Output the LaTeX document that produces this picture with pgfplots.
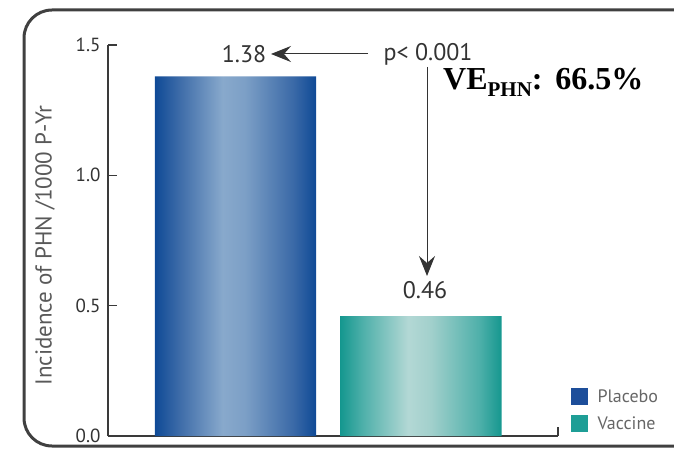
\documentclass[border=0pt]{standalone}
\usepackage{pgfplots}
\pgfplotsset{compat=1.18}
\usetikzlibrary{arrows.meta}
\usepackage{fontspec}
\setmainfont{PT Sans}
\newfontfamily\timesfont{Liberation Serif}
\definecolor{pA}{HTML}{0F4A96}
\definecolor{pB}{HTML}{3A69A7}
\definecolor{pC}{HTML}{88A9CC}
\definecolor{pD}{HTML}{7C9FC6}
\definecolor{vA}{HTML}{15978F}
\definecolor{vB}{HTML}{4FB0AA}
\definecolor{vC}{HTML}{B3D8D5}
\definecolor{vD}{HTML}{A2D0CC}
\definecolor{legblue}{HTML}{1D4E9A}
\definecolor{legteal}{HTML}{1E9E96}
\definecolor{axgray}{HTML}{3A3A3A}
\pgfdeclarehorizontalshading{plcshade}{100bp}{color(0bp)=(pA); color(25bp)=(pA); color(32bp)=(pB); color(46bp)=(pC); color(53bp)=(pD); color(68bp)=(pB); color(75bp)=(pA); color(100bp)=(pA)}
\pgfdeclarehorizontalshading{vacshade}{100bp}{color(0bp)=(vA); color(25bp)=(vA); color(32bp)=(vB); color(46bp)=(vC); color(53bp)=(vD); color(68bp)=(vB); color(75bp)=(vA); color(100bp)=(vA)}
\begin{document}
\begin{tikzpicture}[x=1pt,y=1pt]
\useasboundingbox (0,0) rectangle (674,450);
\draw[line width=3pt, color=black!75, rounded corners=28pt] (24,4) rectangle (720,440);
\begin{axis}[
  at={(108pt,14pt)}, anchor=south west,
  scale only axis, width=450pt, height=391pt,
  xmin=0.3127, xmax=2.7386, ymin=0, ymax=1.5,
  axis lines=left, axis line style={-, line width=1.3pt, axgray},
  xtick=\empty,
  extra x ticks={2.7386}, extra x tick labels={},
  ytick={0,0.5,1,1.5}, yticklabels={0.0,0.5,1.0,1.5},
  tick align=inside, major tick length=9pt,
  tick style={line width=1.3pt, axgray},
  yticklabel style={font=\fontsize{19}{19}\selectfont, text=black!80, xshift=-4pt},
  ylabel={Incidence of PHN /1000 P-Yr},
  ylabel style={at={(axis description cs:-0.14,0.487)}, anchor=center, font=\fontsize{23}{23}\selectfont, text=black!65},
  legend style={at={(1,0)}, anchor=south west, xshift=10pt, yshift=1pt, draw=none, fill=none,
    font=\fontsize{18}{18}\selectfont, text=black!60, row sep=9pt},
  legend cell align=left,
  clip=false,
]
% Placebo bar (value 1.38 at x=1, width 0.868)
\addplot[draw=none, shade, shading=plcshade, forget plot] coordinates {(0.566,0) (0.566,1.38) (1.434,1.38) (1.434,0)} \closedcycle;
% Vaccine bar (value 0.46 at x=2, width 0.868)
\addplot[draw=none, shade, shading=vacshade, forget plot] coordinates {(1.566,0) (1.566,0.46) (2.434,0.46) (2.434,0)} \closedcycle;
\addlegendimage{legend image code/.code={\fill[legblue] (0pt,-8pt) rectangle (16pt,8pt); \path (24pt,0pt);}}
\addlegendentry{Placebo}
\addlegendimage{legend image code/.code={\fill[legteal] (0pt,-8pt) rectangle (16pt,8pt); \path (24pt,0pt);}}
\addlegendentry{Vaccine}
\end{axis}
\node[font=\fontsize{24}{24}\selectfont, text=black!80] at (244,396) {1.38};
\draw[-{Stealth[length=20pt,width=16pt,inset=7pt]}, line width=1pt, black!80] (368,396) -- (271,396);
\node[font=\fontsize{24}{24}\selectfont, text=black!80, anchor=west] at (380,396) {p< 0.001};
\draw[-{Stealth[length=20pt,width=16pt,inset=7pt]}, line width=1pt, black!80] (427,383) -- (427,174);
\node[font=\fontsize{24}{24}\selectfont, text=black!80] at (425,160) {0.46};
\node[anchor=base west, inner sep=0pt] at (443,360) {\timesfont\bfseries\fontsize{32}{32}\selectfont VE\raisebox{-7pt}{\fontsize{21}{21}\selectfont PHN}:\hspace{0.4em}66.5\%};
\end{tikzpicture}
\end{document}
